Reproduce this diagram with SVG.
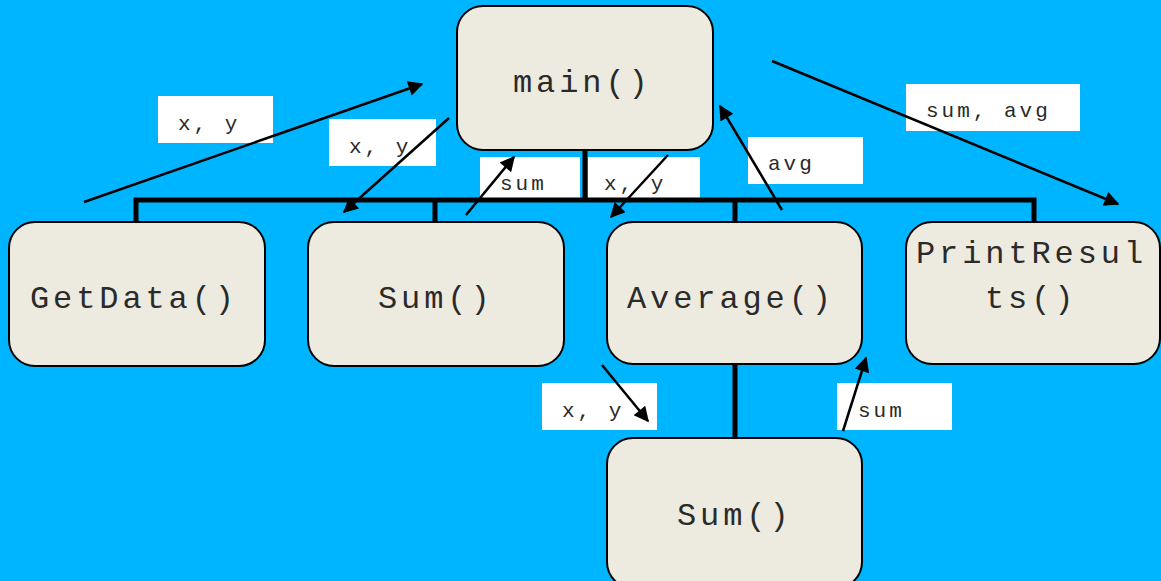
<svg xmlns="http://www.w3.org/2000/svg" width="1161" height="581" viewBox="0 0 1161 581">
<style>
.node rect{fill:#EDEAE0;stroke:#000;stroke-width:2}
.node text{font-family:"Liberation Mono","Courier New",monospace;font-size:32px;letter-spacing:3.9px;fill:#2a2a2a}
.lbl rect{fill:#fff}
.lbl text{font-family:"Liberation Mono","Courier New",monospace;font-size:21px;letter-spacing:3px;fill:#2a2a2a}
.bus{stroke:#000;stroke-width:5;fill:none}
.arr{stroke:#000;stroke-width:2.5;fill:none;marker-end:url(#ah)}
</style>
<defs>
<marker id="ah" viewBox="0 0 10 10" refX="9" refY="5" markerWidth="8.5" markerHeight="6" markerUnits="strokeWidth" orient="auto">
<path d="M0,0 L10,5 L0,10 z" fill="#000"/>
</marker>
</defs>
<rect width="1161" height="581" fill="#00B5FF"/>
<g id="labels">
<g class="lbl"><rect x="158" y="96" width="115" height="47"/><text x="178" y="130">x, y</text></g>
<g class="lbl"><rect x="329" y="119" width="107" height="47"/><text x="349" y="153">x, y</text></g>
<g class="lbl"><rect x="480" y="157" width="100" height="44"/><text x="500" y="190">sum</text></g>
<g class="lbl"><rect x="588" y="157" width="112" height="44"/><text x="604" y="190">x, y</text></g>
<g class="lbl"><rect x="748" y="137" width="115" height="47"/><text x="768" y="170">avg</text></g>
<g class="lbl"><rect x="906" y="84" width="174" height="47"/><text x="926" y="117">sum, avg</text></g>
<g class="lbl"><rect x="542" y="383" width="115" height="47"/><text x="562" y="417">x, y</text></g>
<g class="lbl"><rect x="837" y="383" width="115" height="47"/><text x="858" y="417">sum</text></g>
</g>
<g id="connectors">
<path class="bus" d="M585,150 V200 M136,222 V200 H1034 V222 M435,200 V222 M735,200 V222 M735,364 V438"/>
<line class="arr" x1="84" y1="202" x2="422" y2="84"/>
<line class="arr" x1="449" y1="118" x2="344" y2="212"/>
<line class="arr" x1="466" y1="215" x2="514" y2="157"/>
<line class="arr" x1="668" y1="155" x2="611" y2="217"/>
<line class="arr" x1="782" y1="210" x2="720" y2="106"/>
<line class="arr" x1="772" y1="61" x2="1118" y2="204"/>
<line class="arr" x1="602" y1="365" x2="648" y2="421"/>
<line class="arr" x1="843" y1="431" x2="866" y2="358"/>
</g>
<g id="main" class="node"><rect x="457" y="6" width="256" height="144" rx="26"/><text x="513" y="92">main()</text></g>
<g id="getdata" class="node"><rect x="9" y="222" width="256" height="144" rx="26"/><text x="30" y="308">GetData()</text></g>
<g id="sum1" class="node"><rect x="308" y="222" width="256" height="144" rx="26"/><text x="378" y="308">Sum()</text></g>
<g id="average" class="node"><rect x="607" y="222" width="255" height="142" rx="26"/><text x="627" y="308">Average()</text></g>
<g id="printresults" class="node"><rect x="906" y="222" width="254" height="142" rx="26"/><text x="916" y="263">PrintResul</text><text x="985" y="308">ts()</text></g>
<g id="sum2" class="node"><rect x="607" y="438" width="255" height="150" rx="26"/><text x="677" y="525">Sum()</text></g>
</svg>
